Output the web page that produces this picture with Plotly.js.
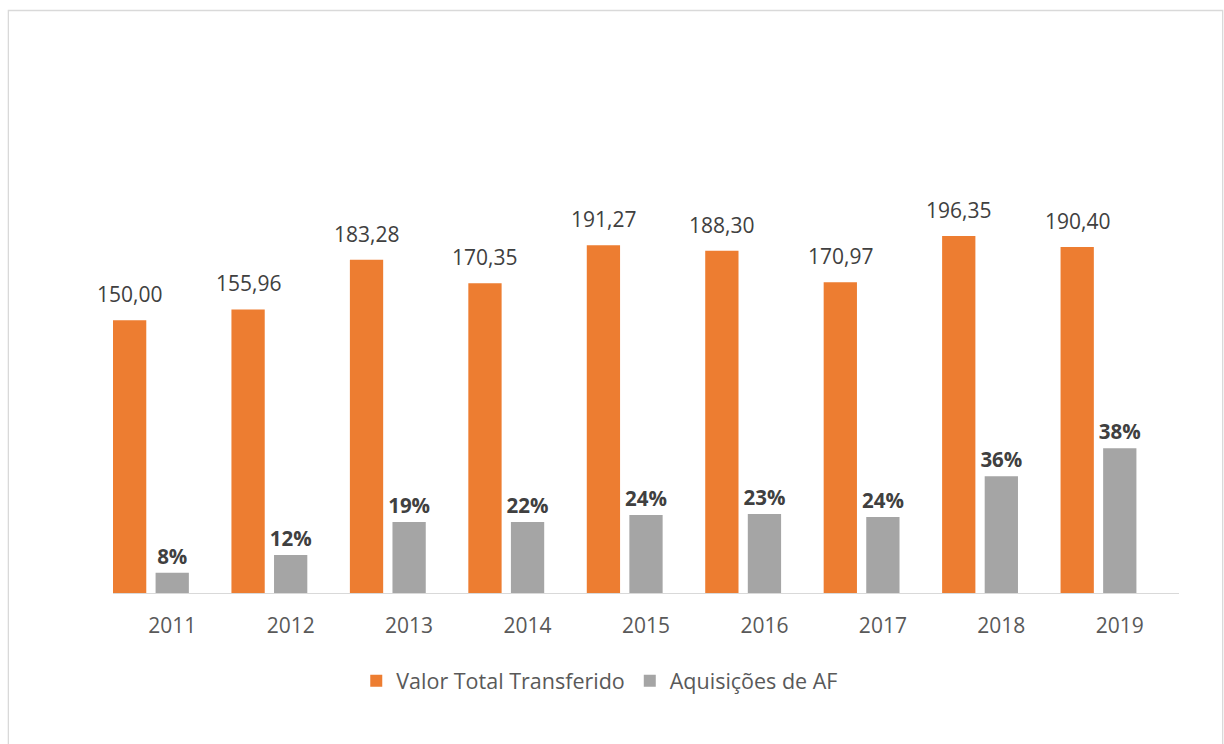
<!DOCTYPE html>
<html>
<head>
<meta charset="utf-8">
<script src="https://cdn.plot.ly/plotly-3.0.1.min.js"></script>
<style>html,body{margin:0;padding:0;background:#fff;}#chart{width:1224px;height:744px;}</style>
</head>
<body>
<div id="chart"></div>
<script>
// Data
var years = ["2011", "2012", "2013", "2014", "2015", "2016", "2017", "2018", "2019"];
var valorTotal = [150.00, 155.96, 183.28, 170.35, 191.27, 188.30, 170.97, 196.35, 190.40];
var valorTotalLabels = ["150,00", "155,96", "183,28", "170,35", "191,27", "188,30", "170,97", "196,35", "190,40"];
var aquisicoesAF = [11.2, 20.9, 39.1, 39.1, 42.9, 43.5, 41.8, 64.2, 79.6];
var aquisicoesLabels = ["8%", "12%", "19%", "22%", "24%", "23%", "24%", "36%", "38%"];

var FONT = "'Open Sans', 'Noto Sans', sans-serif";
var xIdx = years.map(function (_, i) { return i; });
var BAR_W = 0.281;
var OFF_ORANGE = -0.5;
var OFF_GRAY = -0.1405;

var traces = [
  {
    type: 'bar', name: 'Valor Total Transferido',
    x: xIdx, y: valorTotal,
    width: BAR_W, offset: OFF_ORANGE,
    marker: {color: '#ED7D31'},
    hoverinfo: 'skip'
  },
  {
    type: 'bar', name: 'Aquisições de AF',
    x: xIdx, y: aquisicoesAF,
    width: BAR_W, offset: OFF_GRAY,
    marker: {color: '#A5A5A5'},
    text: aquisicoesLabels,
    textposition: 'outside',
    constraintext: 'none',
    cliponaxis: false,
    textfont: {family: FONT, size: 20.5, color: '#404040', weight: 'bold'},
    hoverinfo: 'skip'
  }
];

var annotations = valorTotal.map(function (v, i) {
  return {
    x: i + OFF_ORANGE + BAR_W / 2, y: v, xref: 'x', yref: 'y',
    text: valorTotalLabels[i], showarrow: false,
    yanchor: 'bottom', xanchor: 'center', yshift: 10,
    font: {family: FONT, size: 21, color: '#404040'}
  };
});

var layout = {
  width: 1224, height: 744,
  margin: {l: 112.7, r: 44.7, t: 40, b: 151},
  paper_bgcolor: '#ffffff', plot_bgcolor: '#ffffff',
  barmode: 'overlay',
  showlegend: true,
  legend: {
    orientation: 'h', xref: 'container', yref: 'container',
    x: 0.49, xanchor: 'center', y: 0.085, yanchor: 'middle',
    font: {family: FONT, size: 21.5, color: '#595959'},
    traceorder: 'normal', itemclick: false
  },
  xaxis: {
    type: 'linear', range: [-0.5, 8.5],
    tickmode: 'array', tickvals: xIdx, ticktext: years,
    showgrid: false, zeroline: false,
    showline: true, linecolor: '#D9D9D9', linewidth: 1.3,
    ticks: '', ticklabelstandoff: 13,
    tickfont: {family: FONT, size: 21, color: '#595959'},
    fixedrange: true
  },
  yaxis: {
    range: [0, 304.2], visible: false, showgrid: false, zeroline: false,
    fixedrange: true
  },
  annotations: annotations,
  shapes: [{
    type: 'rect', xref: 'paper', yref: 'paper', layer: 'above',
    x0: (8 - 112.7) / 1066.6, x1: (1223 - 112.7) / 1066.6,
    y0: (593 - 770) / 553, y1: (593 - 10.5) / 553,
    line: {color: '#D9D9D9', width: 1.3}, fillcolor: 'rgba(0,0,0,0)'
  }],
  font: {family: FONT, color: '#595959'}
};

Plotly.newPlot('chart', traces, layout, {displayModeBar: false, staticPlot: true});
</script>
</body>
</html>
